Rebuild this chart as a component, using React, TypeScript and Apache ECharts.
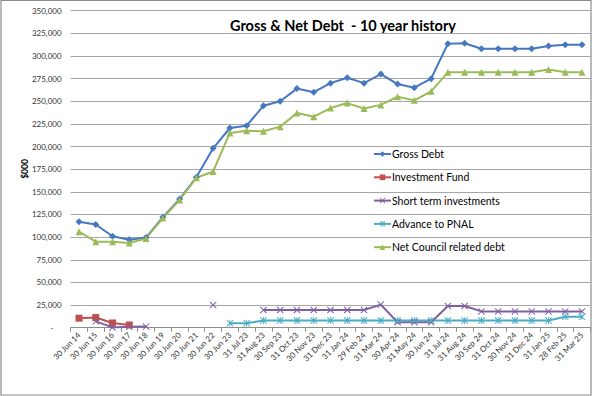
import React, { useEffect, useRef } from "react";
import * as echarts from "echarts";

const categories = [
  "30 Jun 14", "30 Jun 15", "30 Jun 16", "30 Jun 17", "30 Jun 18", "30 Jun 19", "30 Jun 20",
  "30 Jun 21", "30 Jun 22", "30 Jun 23", "31 Jul 23", "31 Aug 23", "30 Sep 23", "31 Oct 23",
  "30 Nov 23", "31 Dec 23", "31 Jan 24", "29 Feb 24", "31 Mar 24", "30 Apr 24", "31 May 24",
  "30 Jun 24", "31 Jul 24", "31 Aug 24", "30 Sep 24", "31 Oct 24", "30 Nov 24", "31 Dec 24",
  "31 Jan 25", "28 Feb 25", "31 Mar 25",
];

const grossDebt = [
  117000, 114000, 101000, 97000, 99500, 122000, 142000, 166000, 198000, 220500,
  223000, 245000, 250000, 264000, 260000, 270000, 276000, 270000, 280000, 269000,
  265000, 275000, 313500, 314000, 308000, 308000, 308000, 308000, 311000, 312500,
  312500,
];

const investmentFund = [
  10500, 11200, 5200, 3000, null, null, null, null, null, null,
  null, null, null, null, null, null, null, null, null, null,
  null, null, null, null, null, null, null, null, null, null,
  null,
];

const shortTermInvestments = [
  null, 7000, 300, 1000, 1200, null, null, null, 25000, null,
  null, 19500, 19500, 19500, 19500, 19500, 19500, 19500, 25500, 6000,
  6000, 6000, 24000, 24000, 18000, 18000, 18000, 18000, 18000, 18000,
  18000,
];

const advanceToPNAL = [
  null, null, null, null, null, null, null, null, null, 5000,
  5000, 8000, 8000, 8000, 8000, 8000, 8000, 8000, 8000, 8000,
  8000, 8000, 8000, 8000, 8000, 8000, 8000, 8000, 8000, 12000,
  12000,
];

const netCouncilDebt = [
  106000, 95000, 95000, 93500, 98500, 121000, 141000, 165500, 172500, 215000,
  217500, 217000, 222000, 237000, 233000, 242500, 248000, 242000, 246000, 255000,
  251000, 261000, 282000, 282000, 282000, 282000, 282000, 282000, 285000, 282000,
  282000,
];

const FONT = "Lato, 'Noto Sans', sans-serif";
const X_SYMBOL = "path://M0,1L1,0L5,4L9,0L10,1L6,5L10,9L9,10L5,6L1,10L0,9L4,5Z";
const STAR_SYMBOL =
  "path://M0,1L1,0L5,4L9,0L10,1L6,5L10,9L9,10L5,6L1,10L0,9L4,5Z M4.4,0L5.6,0L5.6,10L4.4,10Z";

function lineSeries(name: string, data: (number | null)[], color: string, symbol: string, size: number) {
  return {
    name,
    type: "line",
    data,
    symbol,
    symbolSize: size,
    showSymbol: true,
    showAllSymbol: true,
    connectNulls: false,
    lineStyle: { color, width: 2 },
    itemStyle: { color },
    emphasis: { disabled: true },
  };
}

export default function App() {
  const ref = useRef<HTMLDivElement>(null);
  useEffect(() => {
    const chart = echarts.init(ref.current!, null, { renderer: "svg" });
    chart.setOption({
      animation: false,
      grid: { left: 70.6, right: 3.6, top: 10.7, bottom: 68.3, containLabel: false },
      graphic: [
        {
          type: "rect",
          shape: { x: 1, y: 0.5, width: 590, height: 394.5 },
          style: { fill: "none", stroke: "#8c8c8c", lineWidth: 1.2 },
          silent: true,
        },
        {
          type: "text",
          x: 343,
          y: 25.5,
          style: {
            text: "Gross & Net Debt  - 10 year history",
            font: `bold 14.5px ${FONT}`,
            fill: "#000",
            textAlign: "center",
            textVerticalAlign: "middle",
          },
        },
        {
          type: "text",
          x: 25,
          y: 169,
          rotation: Math.PI / 2,
          style: {
            text: "$000",
            font: `bold 8.5px ${FONT}`,
            fill: "#000",
            textAlign: "center",
            textVerticalAlign: "middle",
          },
        },
      ],
      legend: {
        orient: "vertical",
        left: 368,
        top: 142,
        itemWidth: 17,
        itemHeight: 7,
        itemGap: 9.3,
        textStyle: { fontFamily: FONT, fontSize: 10.5, color: "#000", lineHeight: 14, padding: [0, 0, 0, -4] },
        data: [
          "Gross Debt",
          "Investment Fund",
          "Short term investments",
          "Advance to PNAL",
          "Net Council related debt",
        ],
      },
      xAxis: {
        type: "category",
        data: categories,
        boundaryGap: true,
        axisLine: { lineStyle: { color: "#8c8c8c", width: 1 } },
        axisTick: { show: true, length: 4, lineStyle: { color: "#8c8c8c" } },
        axisLabel: { interval: 0, rotate: 45, fontSize: 8, fontFamily: FONT, color: "#333", margin: 6 },
        splitLine: { show: false },
      },
      yAxis: {
        type: "value",
        min: 0,
        max: 350000,
        interval: 25000,
        axisLine: { show: false },
        axisTick: { show: false },
        axisLabel: {
          fontSize: 8,
          fontFamily: FONT,
          color: "#333",
          margin: 9,
          formatter: (v: number) => (v === 0 ? "-    " : v.toLocaleString("en-US")),
        },
        splitLine: { lineStyle: { color: "#a6a6a6", width: 1.2 } },
      },
      series: [
        lineSeries("Gross Debt", grossDebt, "#4677C0", "diamond", 7),
        lineSeries("Investment Fund", investmentFund, "#C0504D", "rect", 7),
        lineSeries("Short term investments", shortTermInvestments, "#7F5FA1", X_SYMBOL, 7),
        lineSeries("Advance to PNAL", advanceToPNAL, "#4BACC6", STAR_SYMBOL, 7),
        lineSeries("Net Council related debt", netCouncilDebt, "#9BBB59", "triangle", 7),
      ],
    });
    return () => chart.dispose();
  }, []);
  return <div ref={ref} style={{ position: "absolute", left: 0, top: 0, width: 594, height: 396 }} />;
}
